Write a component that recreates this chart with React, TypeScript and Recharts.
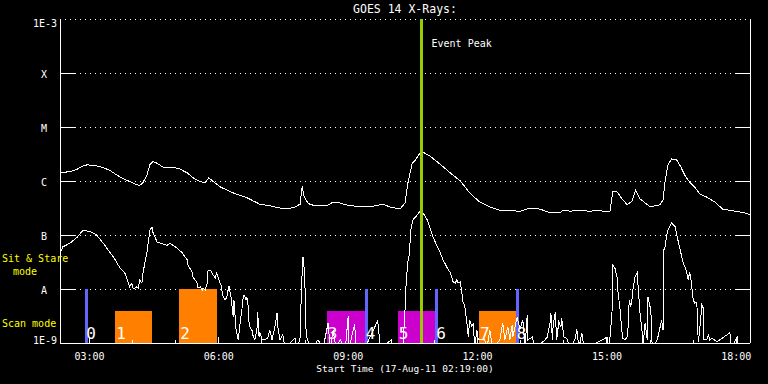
import React from 'react';
import {
  ComposedChart,
  Line,
  XAxis,
  YAxis,
  CartesianGrid,
  ReferenceArea,
  ReferenceLine,
} from 'recharts';

// x values are minutes after the start of the record (17-Aug-11 02:19:00)
const xTicks = [41, 101, 161, 221, 281, 341, 401, 461, 521, 581, 641, 701, 761, 821, 881, 941];
const xTickLabels = ['03:00', '', '', '06:00', '', '', '09:00', '', '', '12:00', '', '', '15:00', '', '', '18:00'];

// y values are log10 of the flux (W/m^2)
const yTicks = [-9, -8, -7, -6, -5, -4, -3];
const yTickLabels = ['1E-9', 'A', 'B', 'C', 'M', 'X', '1E-3'];

// GOES 14 long channel (1-8 A)
const longT = [
  0, 14, 24, 32, 38, 51, 60, 70, 79, 88, 97, 107, 111, 115, 121, 125, 129, 135, 143, 153,
  157, 167, 177, 185, 195, 202, 207, 213, 223, 241, 260, 278, 292, 306, 316, 327, 334, 337,
  339, 344, 348, 362, 371, 380, 385, 397, 417, 431, 449, 459, 473, 480, 484, 490, 494, 501,
  504, 515, 529, 543, 557, 570, 584, 598, 612, 640, 654, 668, 682, 696, 700, 710, 719, 737,
  751, 758, 765, 769, 775, 782, 789, 796, 801, 807, 821, 835, 839, 842, 846, 851, 858, 863,
  870, 876, 883, 890, 900, 911, 922, 939, 953, 960,
];
const longLogFlux = [
  -5.84, -5.83, -5.78, -5.72, -5.7, -5.72, -5.75, -5.81, -5.89, -5.96, -6.01, -6.07, -6.08,
  -6.04, -5.89, -5.7, -5.64, -5.67, -5.74, -5.76, -5.74, -5.78, -5.85, -5.94, -6.01, -6.03,
  -5.94, -6.01, -6.11, -6.22, -6.31, -6.43, -6.46, -6.5, -6.52, -6.48, -6.43, -6.09, -6.26,
  -6.39, -6.44, -6.46, -6.46, -6.39, -6.39, -6.44, -6.48, -6.48, -6.43, -6.48, -6.52, -6.41,
  -6.04, -5.67, -5.62, -5.48, -5.46, -5.54, -5.69, -5.85, -6.0, -6.22, -6.39, -6.48, -6.54,
  -6.56, -6.5, -6.52, -6.59, -6.59, -6.54, -6.56, -6.54, -6.56, -6.54, -6.57, -6.57, -6.2,
  -6.2, -6.33, -6.44, -6.37, -6.17, -6.33, -6.48, -6.44, -6.35, -5.98, -5.7, -5.59, -5.61,
  -5.72, -5.91, -6.02, -6.11, -6.24, -6.3, -6.39, -6.52, -6.56, -6.59, -6.63,
];

// GOES 14 short channel (0.5-4 A); -9.1 = below the plot floor
const shortT = [
  0, 4, 14, 24, 32, 42, 51, 60, 70, 77, 81, 86, 90, 93, 97, 100, 102, 107, 109, 111, 114, 115,
  118, 121, 122, 125, 128, 129, 135, 139, 149, 153, 157, 163, 170, 177, 178, 184, 185, 191,
  192, 195, 198, 199, 202, 205, 206, 209, 211, 213, 216, 218, 221, 224, 227, 230, 232, 235,
  238, 241, 242, 245, 248, 250, 253, 255, 256, 259, 260, 262, 263, 264, 267, 269, 271, 274,
  275, 277, 278, 281, 285, 289, 292, 295, 299, 302, 303, 306, 310, 313, 327, 330, 334, 335,
  337, 338, 339, 341, 342, 344, 351, 359, 366, 373, 376, 380, 384, 390, 397, 401, 402, 410,
  412, 424, 442, 444, 445, 461, 462, 477, 480, 481, 483, 484, 486, 488, 491, 497, 501, 505,
  511, 519, 529, 533, 538, 543, 547, 550, 552, 554, 557, 559, 561, 563, 566, 568, 570, 573,
  575, 577, 580, 582, 591, 594, 598, 602, 612, 616, 619, 623, 626, 629, 630, 636, 640, 644,
  647, 650, 651, 657, 661, 675, 678, 682, 683, 685, 686, 689, 691, 694, 697, 698, 701, 705,
  710, 717, 719, 722, 726, 729, 755, 761, 764, 768, 769, 772, 775, 776, 779, 782, 783, 786,
  789, 790, 792, 794, 796, 797, 800, 803, 804, 807, 810, 811, 814, 817, 818, 822, 824, 831,
  835, 837, 839, 840, 842, 844, 846, 851, 856, 858, 863, 867, 870, 872, 874, 876, 878, 881,
  883, 886, 888, 890, 893, 895, 896, 900, 902, 904, 907, 914, 932, 934, 942, 943, 960,
];
const shortLogFlux = [
  -7.33, -7.22, -7.15, -7.04, -6.91, -6.94, -7.0, -7.15, -7.33, -7.46, -7.56, -7.65, -7.7,
  -7.8, -7.96, -7.89, -8.0, -7.96, -7.98, -7.83, -7.89, -7.74, -7.52, -7.33, -7.22, -6.91,
  -6.85, -6.94, -7.13, -7.15, -7.19, -7.15, -7.19, -7.24, -7.33, -7.46, -7.56, -7.69, -7.78,
  -7.89, -7.98, -7.96, -8.02, -7.98, -8.02, -7.89, -7.65, -7.65, -7.69, -7.74, -7.8, -7.7,
  -7.83, -7.93, -8.15, -8.2, -8.15, -7.94, -8.15, -8.52, -8.2, -8.76, -8.94, -8.7, -8.39,
  -8.15, -8.11, -8.2, -8.15, -8.33, -8.61, -8.7, -8.76, -8.89, -8.94, -8.76, -8.43, -8.89,
  -8.8, -8.94, -8.94, -8.91, -8.76, -8.94, -8.7, -8.44, -8.7, -8.94, -8.85, -9.1, -8.91,
  -9.1, -8.91, -8.39, -7.65, -7.41, -7.46, -8.02, -8.7, -8.94, -9.1, -8.94, -9.1, -8.63,
  -9.1, -8.76, -9.1, -8.94, -9.1, -8.5, -9.1, -8.65, -9.1, -9.1, -8.59, -8.85, -9.1, -8.94,
  -9.1, -9.1, -8.39, -8.02, -7.65, -7.5, -7.37, -6.91, -6.72, -6.63, -6.56, -6.59, -6.72,
  -7.04, -7.33, -7.46, -7.59, -7.7, -7.87, -7.89, -7.83, -7.89, -7.87, -8.06, -8.26, -8.3,
  -8.61, -8.89, -8.57, -8.7, -8.63, -9.1, -8.76, -8.94, -8.94, -9.1, -8.76, -9.1, -8.94,
  -8.63, -8.94, -8.7, -8.94, -8.67, -8.89, -8.52, -8.74, -8.57, -9.1, -8.48, -8.94, -8.89,
  -9.1, -8.94, -8.89, -8.61, -8.44, -8.94, -8.7, -8.43, -8.94, -8.61, -8.7, -8.54, -8.89,
  -8.91, -9.1, -8.91, -8.74, -9.1, -8.81, -9.1, -8.94, -8.89, -9.1, -8.44, -7.56, -7.61,
  -7.78, -8.02, -8.35, -8.81, -8.91, -8.94, -8.89, -8.8, -8.2, -8.33, -8.17, -8.02, -7.78,
  -7.7, -7.89, -8.44, -8.81, -9.1, -8.63, -8.94, -8.15, -8.39, -9.1, -8.94, -8.7, -8.57,
  -8.76, -7.28, -7.22, -7.0, -6.91, -6.78, -6.85, -7.0, -7.28, -7.52, -7.61, -7.7, -7.83,
  -7.69, -7.83, -8.2, -8.26, -8.24, -8.98, -8.76, -8.3, -8.35, -8.94, -8.94, -8.85, -8.94,
  -8.91, -8.98, -8.81, -9.1, -8.89, -9.1, -9.1,
];

// observation blocks along the bottom
const obsLabel = ['0', '1', '2', '3', '4', '5', '6', '7', '8'];
const obsStart = [35, 77, 166, 371, 424, 470, 522, 583, 634];
const obsEnd = [39, 128, 218, 424, 429, 522, 526, 634, 639];
const obsTop = [-8, -8.4, -8, -8.4, -8, -8.4, -8, -8.4, -8];
const obsGroup = ['b', 'o', 'o', 'm', 'b', 'm', 'b', 'o', 'b'];

const eventPeak = 503;

const groupColor: Record<string, string> = { o: '#ff8000', m: '#cc00cc', b: '#6464ff' };
const FONT = '"DejaVu Sans Mono", monospace';
const YELLOW = '#ffff00';

const longRows = longT.map((t, i) => ({ t, f: longLogFlux[i] }));
const shortRows = shortT.map((t, i) => ({ t, f: shortLogFlux[i] }));

function BottomTick(props: any) {
  const { x, y, payload } = props;
  const label = xTickLabels[xTicks.indexOf(payload.value)] || '';
  const major = label !== '';
  return (
    <g>
      <line x1={x} x2={x} y1={y} y2={y - (major ? 6 : 3)} stroke="#fff" />
      {major && (
        <text x={x} y={y + 17} textAnchor="middle" fill="#fff" fontSize={10} fontFamily={FONT}>
          {label}
        </text>
      )}
    </g>
  );
}

function TopTick(props: any) {
  const { x, y, payload } = props;
  const major = (xTickLabels[xTicks.indexOf(payload.value)] || '') !== '';
  return <line x1={x} x2={x} y1={y} y2={y + (major ? 6 : 3)} stroke="#fff" />;
}

function LeftTick(props: any) {
  const { x, y, payload } = props;
  const i = yTicks.indexOf(payload.value);
  const label = yTickLabels[i];
  const inner = i > 0 && i < yTicks.length - 1;
  const isExp = label.startsWith('1E');
  const dy = i === 0 ? 1 : i === yTicks.length - 1 ? 7.5 : 4.5;
  return (
    <g>
      {inner && <line x1={x} x2={x + 15} y1={y} y2={y} stroke="#fff" />}
      <text
        x={isExp ? x - 3 : x - 16}
        y={y + dy}
        textAnchor={isExp ? 'end' : 'middle'}
        fill="#fff"
        fontSize={10}
        fontFamily={FONT}
      >
        {label}
      </text>
    </g>
  );
}

function RightTick(props: any) {
  const { x, y, payload } = props;
  const i = yTicks.indexOf(payload.value);
  if (i <= 0 || i >= yTicks.length - 1) return <g />;
  return <line x1={x - 14} x2={x} y1={y} y2={y} stroke="#fff" />;
}

export default function App() {
  return (
    <div
      className="goes"
      style={{ position: 'absolute', left: 0, top: 0, width: 768, height: 384, background: '#000' }}
    >
      <style>{'.goes line, .goes path { shape-rendering: crispEdges; }'}</style>
      <ComposedChart width={768} height={384} margin={{ top: 19, right: 0, bottom: 0, left: 0 }}>
        <CartesianGrid vertical={false} stroke="#fff" strokeDasharray="1 4" />
        <XAxis
          type="number"
          dataKey="t"
          domain={[0, 960]}
          ticks={xTicks}
          interval={0}
          height={41}
          tickSize={0}
          tickMargin={0}
          tickLine={false}
          axisLine={{ stroke: '#fff' }}
          tick={(p: any) => <BottomTick {...p} />}
          allowDataOverflow
        />
        <XAxis
          xAxisId="top"
          orientation="top"
          type="number"
          dataKey="t"
          domain={[0, 960]}
          ticks={xTicks}
          interval={0}
          height={0}
          tickSize={0}
          tickMargin={0}
          tickLine={false}
          axisLine={{ stroke: '#fff' }}
          tick={(p: any) => <TopTick {...p} />}
          allowDataOverflow
        />
        <YAxis
          type="number"
          domain={[-9, -3]}
          ticks={yTicks}
          interval={0}
          width={60}
          tickSize={0}
          tickMargin={0}
          tickLine={false}
          axisLine={{ stroke: '#fff' }}
          tick={(p: any) => <LeftTick {...p} />}
          allowDataOverflow
        />
        <YAxis
          yAxisId="r"
          orientation="right"
          type="number"
          domain={[-9, -3]}
          ticks={yTicks}
          interval={0}
          width={18}
          tickSize={0}
          tickMargin={0}
          tickLine={false}
          axisLine={{ stroke: '#fff' }}
          tick={(p: any) => <RightTick {...p} />}
          allowDataOverflow
        />
        {obsLabel.map((lab, i) => (
          <ReferenceArea
            key={lab}
            x1={obsStart[i]}
            x2={obsEnd[i]}
            y1={-9}
            y2={obsTop[i]}
            fill={groupColor[obsGroup[i]]}
            fillOpacity={1}
            stroke="none"
            label={(p: any) => (
              <text
                x={p.viewBox.x + 1}
                y={p.viewBox.y + p.viewBox.height - 4}
                fill="#fff"
                fontSize={16}
                fontFamily={FONT}
              >
                {lab}
              </text>
            )}
          />
        ))}
        <Line
          data={longRows}
          dataKey="f"
          type="linear"
          stroke="#fff"
          strokeWidth={1}
          dot={false}
          activeDot={false}
          isAnimationActive={false}
        />
        <Line
          data={shortRows}
          dataKey="f"
          type="linear"
          stroke="#fff"
          strokeWidth={1}
          dot={false}
          activeDot={false}
          isAnimationActive={false}
        />
        <ReferenceLine
          x={eventPeak}
          stroke="#99cc00"
          strokeWidth={3}
          label={(p: any) => (
            <text x={p.viewBox.x + 10} y={p.viewBox.y + 28} fill="#fff" fontSize={10} fontFamily={FONT}>
              Event Peak
            </text>
          )}
        />
      </ComposedChart>
      <svg
        width={768}
        height={384}
        style={{ position: 'absolute', left: 0, top: 0, pointerEvents: 'none' }}
      >
        <text x={405} y={13} textAnchor="middle" fill="#fff" fontSize={11.5} fontFamily={FONT}>
          GOES 14 X-Rays:
        </text>
        <text x={405} y={372} textAnchor="middle" fill="#fff" fontSize={9.5} fontFamily={FONT}>
          Start Time (17-Aug-11 02:19:00)
        </text>
        <text x={2} y={262} fill={YELLOW} fontSize={10} fontFamily={FONT}>
          Sit &amp; Stare
        </text>
        <text x={13} y={275} fill={YELLOW} fontSize={10} fontFamily={FONT}>
          mode
        </text>
        <text x={2} y={327} fill={YELLOW} fontSize={10} fontFamily={FONT}>
          Scan mode
        </text>
      </svg>
    </div>
  );
}
